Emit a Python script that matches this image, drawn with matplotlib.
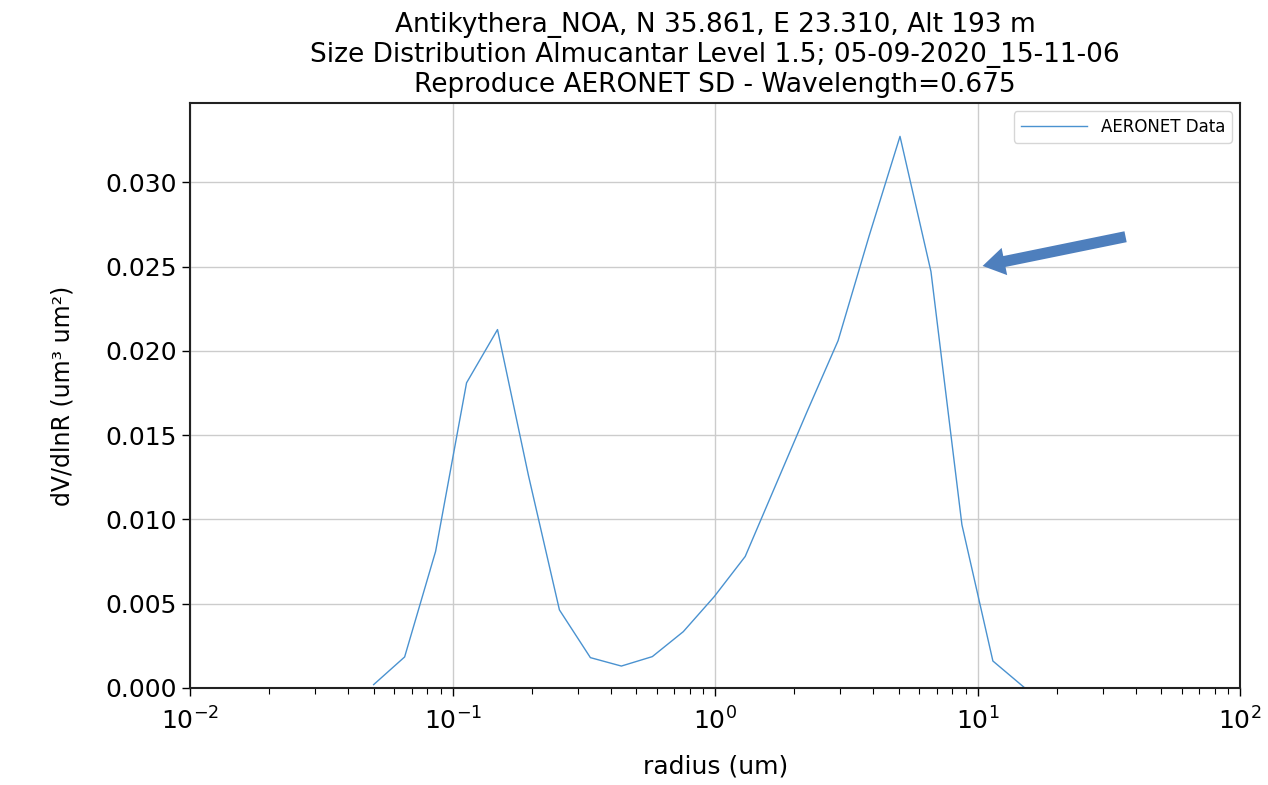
import numpy as np
import matplotlib.pyplot as plt

# AERONET size distribution bins (radius in um) and dV/dlnR
radius = [0.05, 0.065604, 0.086077, 0.112939, 0.148184, 0.194429, 0.255105,
          0.334716, 0.439173, 0.576227, 0.756052, 0.991996, 1.301571,
          1.707757, 2.240702, 2.939966, 3.857452, 5.06126, 6.640745,
          8.713145, 11.432287, 15.0]
dvdlnr = [0.0002, 0.00184, 0.0081, 0.0181, 0.02126, 0.0126, 0.00463,
          0.0018, 0.0013, 0.00186, 0.00334, 0.00542, 0.0078,
          0.0121, 0.0164, 0.0206, 0.0268, 0.03272, 0.0247,
          0.00968, 0.0016, 0.00005]

title_lines = ["Antikythera_NOA, N 35.861, E 23.310, Alt 193 m",
               "Size Distribution Almucantar Level 1.5; 05-09-2020_15-11-06",
               "Reproduce AERONET SD - Wavelength=0.675"]

fig = plt.figure(figsize=(12.68, 7.85), dpi=100)
ax = fig.add_axes([0.150, 0.1236, 0.828, 0.7452])

ax.plot(radius, dvdlnr, color='#4a92d0', lw=1.0, label='AERONET Data')
ax.set_xscale('log')
ax.set_xlim(1e-2, 1e2)
ax.set_ylim(0, 0.0347)
ax.set_yticks(np.arange(0, 0.0301, 0.005))
ax.yaxis.set_major_formatter(plt.FormatStrFormatter('%.3f'))
ax.grid(True, which='major', color='#cccccc', lw=1.0)

ax.tick_params(axis='both', which='major', labelsize=18, length=6, width=1)
ax.tick_params(axis='x', which='major', pad=8)
ax.tick_params(axis='x', which='minor', length=4, width=0.8)
for s in ax.spines.values():
    s.set_linewidth(1.5)
    s.set_color('#222222')

ax.set_xlabel('radius (um)', fontsize=18, labelpad=14)
ax.set_ylabel('dV/dlnR (um³ um²)', fontsize=17, labelpad=22)
ax.set_title('\n'.join(title_lines), fontsize=19, linespacing=1.2, pad=8)

ax.legend(loc='upper right', fontsize=12, handlelength=4, framealpha=0.8)

# highlight arrow
ax.annotate('', xy=(10.2, 0.025), xytext=(37.5, 0.0268),
            arrowprops=dict(arrowstyle='simple,head_length=1.6,head_width=2.0,tail_width=0.8',
                            color='#4e7fbd', lw=0))

fig.savefig('out.png', dpi=100)
